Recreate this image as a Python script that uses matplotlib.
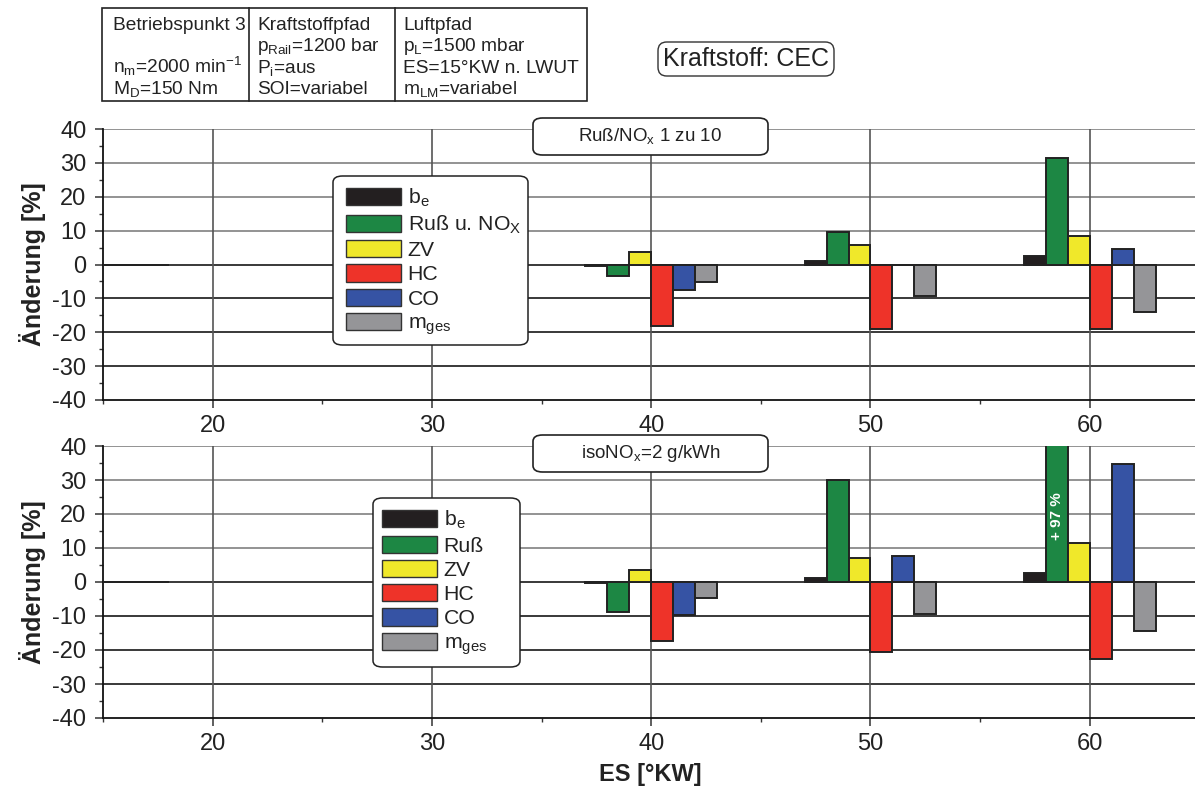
import matplotlib
matplotlib.use('Agg')
import matplotlib.pyplot as plt
from matplotlib.patches import Patch, FancyBboxPatch, Rectangle
from matplotlib.lines import Line2D
from matplotlib.ticker import MultipleLocator

plt.rcParams['font.family'] = ['Liberation Sans', 'DejaVu Sans']
plt.rcParams['mathtext.default'] = 'regular'
plt.rcParams['axes.unicode_minus'] = False

# Daten (Änderung in % gegenüber Referenz bei ES=15°KW)
es = [15, 40, 50, 60]

# oben: Ruß/NOx 1 zu 10
be_oben = [0, -0.3, 1.0, 2.6]
russ_nox_oben = [0, -3.4, 9.7, 31.5]
zv_oben = [0, 3.7, 5.8, 8.3]
hc_oben = [0, -18.1, -19.0, -19.1]
co_oben = [0, -7.5, -0.2, 4.7]
mges_oben = [0, -5.1, -9.3, -14.1]

# unten: isoNOx = 2 g/kWh
be_unten = [0, -0.3, 1.2, 2.6]
russ_unten = [0, -8.7, 30.0, 97.0]
zv_unten = [0, 3.4, 7.0, 11.5]
hc_unten = [0, -17.4, -20.6, -22.6]
co_unten = [0, -9.7, 7.6, 34.8]
mges_unten = [0, -4.7, -9.4, -14.4]

farben = ['#231f20', '#1d8744', '#f0e82a', '#ee3329', '#3653a4', '#959598']
labels_oben = ['b$_e$', 'Ruß u. NO$_X$', 'ZV', 'HC', 'CO', 'm$_{ges}$']
labels_unten = ['b$_e$', 'Ruß', 'ZV', 'HC', 'CO', 'm$_{ges}$']
offsets = [-2.5, -1.5, -0.5, 0.5, 1.5, 2.5]

W, H = 1195, 791
fig = plt.figure(figsize=(W / 100, H / 100), dpi=100)


def px(x, y):
    # Pixel (von oben links) -> Figurkoordinaten
    return x / W, 1 - y / H


def rundbox(xa, ya, xb, yb, r=0.008, lw=1.2, z=6):
    x0, y0 = px(xa, ya)
    x1, y1 = px(xb, yb)
    fig.add_artist(FancyBboxPatch((x0, y1), x1 - x0, y0 - y1,
                                  boxstyle=f'round,pad=0,rounding_size={r}',
                                  transform=fig.transFigure, facecolor='white',
                                  edgecolor='#222222', linewidth=lw, zorder=z))
    return (x0 + x1) / 2, (y0 + y1) / 2


def panel(top_px, bot_px, reihen, labels, leg_box, leg_anchor, titel):
    ax = fig.add_axes([103 / W, 1 - bot_px / H, (W - 103) / W, (bot_px - top_px) / H])
    ax.set_xlim(15, 64.8)
    ax.set_ylim(-40, 40)
    ax.set_axisbelow(True)

    for v in range(-30, 50, 10):
        c = '#8a8a8a' if v > 0 else '#2a2a2a'
        ax.axhline(v, color=c, lw=1.3, zorder=0)
    for v in range(20, 70, 10):
        ax.axvline(v, color='#555555', lw=1.2, zorder=0)

    for reihe, off, f in zip(reihen, offsets, farben):
        ax.bar([x + off for x in es], reihe, width=1.0, color=f,
               edgecolor='#222222', linewidth=1.4, zorder=3)

    for s in ['top', 'right']:
        ax.spines[s].set_visible(False)
    for s in ['left', 'bottom']:
        ax.spines[s].set_color('#111111')
        ax.spines[s].set_linewidth(1.3)

    ax.xaxis.set_major_locator(MultipleLocator(10))
    ax.xaxis.set_minor_locator(MultipleLocator(5))
    ax.yaxis.set_major_locator(MultipleLocator(10))
    ax.yaxis.set_minor_locator(MultipleLocator(5))
    ax.tick_params(which='major', length=6, width=1.1, labelsize=17, pad=5,
                   color='#333333', labelcolor='#222222')
    ax.tick_params(which='minor', length=3, width=1.0, color='#333333')
    ax.tick_params(axis='y', pad=6)

    # Legende mit eigenem Rahmen
    rundbox(*leg_box, r=0.008, lw=1.1, z=5)
    handles = [Patch(facecolor=f, edgecolor='#333333', linewidth=1.0) for f in farben]
    leg = fig.legend(handles, labels, loc='upper left',
                     bbox_to_anchor=px(*leg_anchor), bbox_transform=fig.transFigure,
                     fontsize=15.3, handlelength=2.6, handleheight=0.88,
                     handletextpad=0.3, labelspacing=0.2, borderpad=0,
                     borderaxespad=0, frameon=False)
    leg.set_zorder(6)
    for t in leg.get_texts():
        t.set_color('#222222')

    # Titelbox
    cx, cy = rundbox(533, top_px - 11, 768, top_px + 26)
    fig.text(cx, cy, titel, ha='center', va='center',
             fontsize=13.5, color='#222222', zorder=7)

    fig.text(33 / W, 1 - (top_px + bot_px) / 2 / H, 'Änderung [%]', rotation=90,
             ha='center', va='center', fontsize=18, fontweight='bold', color='#222222')
    return ax


ax1 = panel(129, 400,
            [be_oben, russ_nox_oben, zv_oben, hc_oben, co_oben, mges_oben],
            labels_oben, (333, 176, 528, 345), (346, 187), 'Ruß/NO$_x$ 1 zu 10')
ax2 = panel(446, 718,
            [be_unten, russ_unten, zv_unten, hc_unten, co_unten, mges_unten],
            labels_unten, (373, 498, 520, 667), (382, 509), 'isoNO$_x$=2 g/kWh')

ax2.text(60 - 1.5, 19.5, '+ 97 %', rotation=90, ha='center', va='center',
         color='white', fontsize=11, fontweight='bold', zorder=6)

fig.text(650 / W, 1 - 775 / H, 'ES [°KW]', ha='center', va='center',
         fontsize=17, fontweight='bold', color='#222222')

# Tabelle oben
tx0, ty0 = px(102, 8)
tx1, ty1 = px(587, 101)
fig.add_artist(Rectangle((tx0, ty1), tx1 - tx0, ty0 - ty1, transform=fig.transFigure,
                         facecolor='none', edgecolor='#222222', linewidth=1.2))
for xs in [249, 395]:
    fig.add_artist(Line2D([xs / W, xs / W], [ty1, ty0], transform=fig.transFigure,
                          color='#222222', linewidth=1.2))

spalten = {
    113: ['Betriebspunkt 3', '', 'n$_m$=2000 min$^{-1}$', 'M$_D$=150 Nm'],
    257: ['Kraftstoffpfad', 'p$_{Rail}$=1200 bar', 'P$_i$=aus', 'SOI=variabel'],
    403: ['Luftpfad', 'p$_L$=1500 mbar', 'ES=15°KW n. LWUT', 'm$_{LM}$=variabel'],
}
for xs, zeilen in spalten.items():
    for i, z in enumerate(zeilen):
        fig.text(xs / W, 1 - (30 + i * 21.3) / H, z, ha='left', va='baseline',
                 fontsize=13.8, color='#222222')

# Kraftstoff-Box
fig.text(746 / W, 1 - 59 / H, 'Kraftstoff: CEC', ha='center', va='center',
         fontsize=18, color='#222222',
         bbox=dict(boxstyle='round,pad=0.2,rounding_size=0.35', facecolor='white',
                   edgecolor='#333333', linewidth=1.0))

fig.savefig('out.png', dpi=100)
